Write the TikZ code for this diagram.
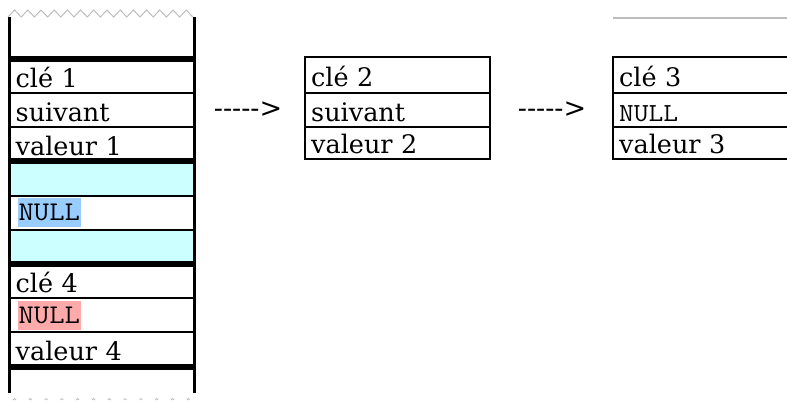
\documentclass[tikz,border=0pt]{standalone}
\usepackage{fontspec}
\setmainfont{DejaVu Serif}
\setmonofont{Latin Modern Mono}[FakeStretch=1.1]
\definecolor{slotcyan}{HTML}{CCFFFF}
\definecolor{nullblue}{HTML}{99CCFF}
\definecolor{nullred}{HTML}{FFAAAA}
\definecolor{rimgray}{HTML}{BDBDBD}
\tikzset{
  cell/.style={anchor=north west, inner xsep=6pt, inner ysep=0pt, text width=173pt,
    align=left, minimum height=34.17pt, text height=23pt, text depth=1.2pt,
    font=\fontsize{25.5}{30}\selectfont},
  nullmark/.style={anchor=west, inner xsep=1pt, inner ysep=0pt, minimum height=29pt,
    text height=20pt, text depth=4pt, font=\ttfamily\fontsize{27}{30}\selectfont},
  thinrule/.style={line width=2pt},
  thickrule/.style={line width=6pt},
  wall/.style={line width=3pt},
  arrowtext/.style={font=\fontsize{27}{30}\selectfont},
}
\begin{document}
\begin{tikzpicture}[x=1pt,y=-1pt]
  \clip (0,0) rectangle (787,403);

  % left column: the table
  \node[cell] (k1) at (9.5,59) {clé 1};
  \node[cell] (s1) at (9.5,93.2) {suivant};
  \node[cell] (v1) at (9.5,127.3) {valeur 1};
  \node[cell, fill=slotcyan] (c1) at (9.5,161.5) {};
  \node[cell] (n1) at (9.5,195.7) {};
  \node[cell, fill=slotcyan] (c2) at (9.5,229.8) {};
  \node[cell] (k4) at (9.5,264) {clé 4};
  \node[cell] (s4) at (9.5,298.2) {};
  \node[cell] (v4) at (9.5,332.3) {valeur 4};
  \node[nullmark, fill=nullblue] (nb) at ([xshift=8pt]n1.west) {NULL};
  \node[nullmark, fill=nullred] (nr) at ([xshift=8pt]s4.west) {NULL};

  \coordinate (wl) at (9.5,17);
  \coordinate (wr) at (194.5,17);
  \draw[wall] (wl) -- (wl |- 0,393);
  \draw[wall] (wr) -- (wr |- 0,393);
  \draw[thickrule] (k1.north west) -- (k1.north east);
  \draw[thinrule] (s1.north west) -- (s1.north east);
  \draw[thinrule] (v1.north west) -- (v1.north east);
  \draw[thickrule] (c1.north west) -- (c1.north east);
  \draw[thinrule] (n1.north west) -- (n1.north east);
  \draw[thinrule] (c2.north west) -- (c2.north east);
  \draw[thickrule] (k4.north west) -- (k4.north east);
  \draw[thinrule] (s4.north west) -- (s4.north east);
  \draw[thinrule] (v4.north west) -- (v4.north east);
  \draw[thickrule] (v4.south west) -- (v4.south east);

  % torn edges
  \draw[rimgray, line width=1pt] (8,17) \foreach \i in {0,...,13} { -- ++(6.6,-7) -- ++(6.6,7) };
  \foreach \i in {0,...,11}
    \draw[rimgray, line width=0.8pt] ({13+\i*15.8},400) arc (180:0:1.5pt);

  % chained entries
  \node[arrowtext] (ar1) at (248,110) {-{}-{}-{}-{}->};
  \node[arrowtext] (ar2) at (552,110) {-{}-{}-{}-{}->};

  \node[cell, minimum height=36.3pt] (k2) at (305,57) {clé 2};
  \node[cell] (s2) at (305,93.3) {suivant};
  \node[cell, minimum height=31pt] (v2) at (305,127.3) {valeur 2};
  \draw[thinrule] (k2.north west) rectangle (v2.south east);
  \draw[thinrule] (s2.north west) -- (s2.north east);
  \draw[thinrule] (v2.north west) -- (v2.north east);

  \node[cell, minimum height=36.3pt] (k3) at (613,57) {clé 3};
  \node[cell, font=\ttfamily\fontsize{26}{30}\selectfont] (n3) at (613,93.3) {NULL};
  \node[cell, minimum height=31pt] (v3) at (613,127.3) {valeur 3};
  \draw[thinrule] (k3.north west) rectangle (v3.south east);
  \draw[thinrule] (n3.north west) -- (n3.north east);
  \draw[thinrule] (v3.north west) -- (v3.north east);
  \draw[rimgray, line width=2pt] (k3.north west |- 0,18) -- (800,18);
\end{tikzpicture}
\end{document}
